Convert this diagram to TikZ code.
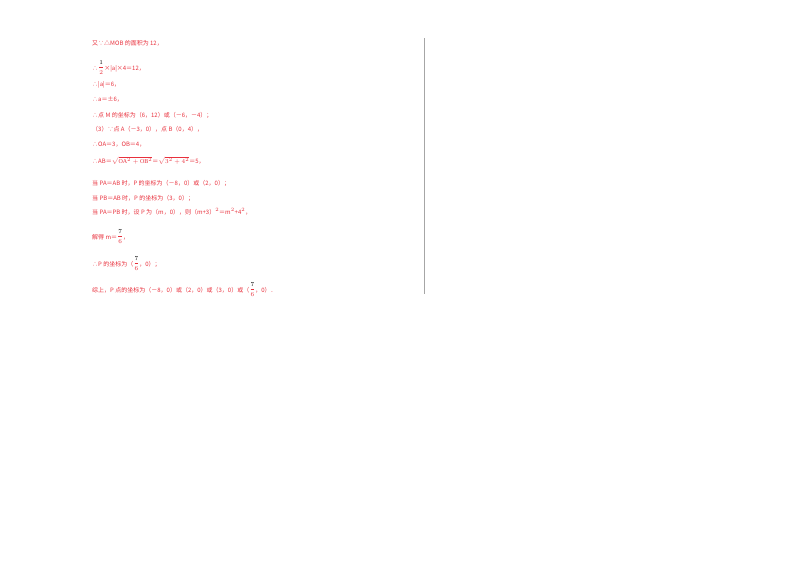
\documentclass[tikz,border=0pt]{standalone}
\usepackage{amsmath}
\usepackage{fontspec}
\setmainfont{Liberation Serif}
\newfontfamily\cjk{Noto Sans CJK SC}
\definecolor{tred}{HTML}{E8303C}
\newcommand{\fr}[2]{\raisebox{0.3ex}{$\genfrac{}{}{0.3pt}{0}{\textcolor{black}{#1}}{#2}$}}
\begin{document}
\begin{tikzpicture}[x=1pt,y=-1pt,
  ln/.style={anchor=base west,text=tred,font=\fontsize{6}{7}\selectfont\cjk,inner sep=0pt}]
\useasboundingbox (0,0) rectangle (800,566);
\draw[gray!70,line width=0.5pt] (424,38) -- (424,294);
\node[ln] (l1) at (92,45) {又∵△\textit{MOB} 的面积为 12，};
\node[ln] (l2) at (92,70) {∴\fr{1}{2}×|\textit{a}|×4＝12，};
\node[ln] (l3) at (92,86) {∴|\textit{a}|＝6，};
\node[ln] (l4) at (92,101) {∴\textit{a}＝±6，};
\node[ln] (l5) at (92,117) {∴点 \textit{M} 的坐标为（6，12）或（－6，－4）；};
\node[ln] (l6) at (92,131) {（3）∵点 \textit{A}（－3，0），点 \textit{B}（0，4），};
\node[ln] (l7) at (92,146) {∴\textit{OA}＝3，\textit{OB}＝4，};
\node[ln] (l8) at (92,163) {∴\textit{AB}＝$\sqrt{\mathrm{OA}^2+\mathrm{OB}^2}$＝$\sqrt{3^2+4^2}$＝5，};
\node[ln] (l9) at (92,185) {当 \textit{PA}＝\textit{AB} 时，\textit{P} 的坐标为（－8，0）或（2，0）；};
\node[ln] (l10) at (92,200) {当 \textit{PB}＝\textit{AB} 时，\textit{P} 的坐标为（3，0）；};
\node[ln] (l11) at (92,214) {当 \textit{PA}＝\textit{PB} 时，设 \textit{P} 为（\textit{m}，0），则（\textit{m}+3）$^2$＝\textit{m}$^2$+4$^2$，};
\node[ln] (l12) at (92,239) {解得 \textit{m}＝\fr{7}{6}，};
\node[ln] (l13) at (92,266) {∴\textit{P} 的坐标为（\fr{7}{6}，0）；};
\node[ln] (l14) at (92,292) {综上，\textit{P} 点的坐标为（－8，0）或（2，0）或（3，0）或（\fr{7}{6}，0）．};
\end{tikzpicture}
\end{document}
